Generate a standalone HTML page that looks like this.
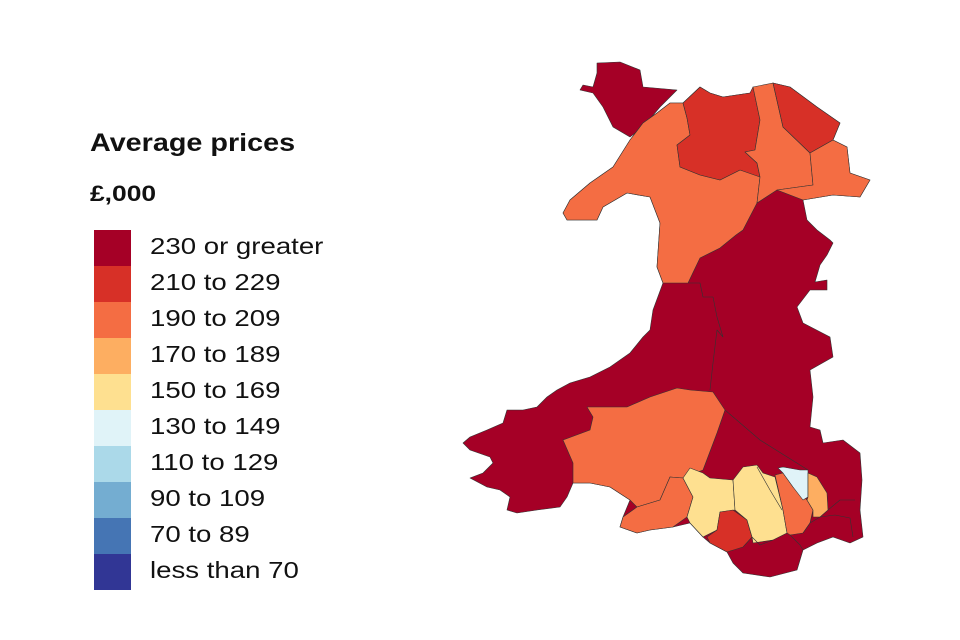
<!DOCTYPE html>
<html><head><meta charset="utf-8"><style>
html,body{margin:0;padding:0;background:#fff;}
body{width:960px;height:640px;position:relative;overflow:hidden;font-family:"Liberation Sans",Arial,sans-serif;}
.t{position:absolute;left:90px;color:#111;font-weight:bold;transform-origin:0 0;white-space:nowrap;}
.sw{position:absolute;left:94px;width:37px;height:36.2px;}
.lb{position:absolute;left:150px;font-size:23px;color:#111;line-height:36px;transform:scaleX(1.2);transform-origin:0 0;white-space:nowrap;}
</style></head><body>
<div class="t" style="top:129px;font-size:25px;transform:scaleX(1.15)">Average prices</div>
<div class="t" style="top:181px;font-size:22px;transform:scaleX(1.2)">£,000</div>
<div class="sw" style="top:230px;background:#a50026"></div><div class="lb" style="top:228px">230 or greater</div>
<div class="sw" style="top:266px;background:#d73027"></div><div class="lb" style="top:264px">210 to 229</div>
<div class="sw" style="top:302px;background:#f46d43"></div><div class="lb" style="top:300px">190 to 209</div>
<div class="sw" style="top:338px;background:#fdae61"></div><div class="lb" style="top:336px">170 to 189</div>
<div class="sw" style="top:374px;background:#fee090"></div><div class="lb" style="top:372px">150 to 169</div>
<div class="sw" style="top:410px;background:#e0f3f8"></div><div class="lb" style="top:408px">130 to 149</div>
<div class="sw" style="top:446px;background:#abd9e9"></div><div class="lb" style="top:444px">110 to 129</div>
<div class="sw" style="top:482px;background:#74add1"></div><div class="lb" style="top:480px">90 to 109</div>
<div class="sw" style="top:518px;background:#4575b4"></div><div class="lb" style="top:516px">70 to 89</div>
<div class="sw" style="top:554px;background:#313695"></div><div class="lb" style="top:552px">less than 70</div>
<svg width="960" height="640" style="position:absolute;left:0;top:0" stroke="#333" stroke-width="0.6" stroke-linejoin="round">
<polygon fill="#a50026" points="597,63 620,62 640,70 643,87 677,90 660,107 643,127 630,137 613,127 603,107 593,93 580,90 583,85 593,87 597,73"/>
<polygon fill="#a50026" points="670,103 683,103 700,87 710,93 723,97 750,93 760,87 773,83 790,87 817,107 840,123 833,140 847,147 850,173 870,180 860,197 833,195 803,200 807,220 817,230 830,240 833,243 827,255 820,265 815,282 827,280 827,290 810,290 797,307 803,323 830,337 833,357 810,370 813,397 810,427 820,430 823,443 843,440 860,453 862,480 860,510 863,537 850,543 833,537 817,543 803,550 797,570 770,577 743,573 733,563 727,552 710,543 703,537 690,523 673,527 650,530 637,533 620,527 623,517 630,500 610,487 590,483 573,483 567,497 560,507 537,510 517,513 507,510 510,497 500,490 487,487 470,478 483,473 493,463 490,457 470,450 463,443 470,437 487,430 503,423 507,410 523,410 537,407 547,397 557,390 570,383 590,377 610,367 630,353 643,337 650,330 653,310 663,283 657,267 660,223 650,197 627,193 603,207 597,220 567,220 563,213 570,200 590,183 613,167 630,140 643,123 657,113"/>
<polygon fill="#f46d43" points="657,113 670,103 683,103 687,118 690,135 677,145 680,167 700,175 720,180 740,170 758,175 760,177 757,203 743,230 736,235 720,248 700,258 688,283 663,283 657,267 660,223 650,197 627,193 603,207 597,220 567,220 563,213 570,200 590,183 613,167 630,140 643,123"/>
<polygon fill="#d73027" points="683,103 700,87 710,93 723,97 750,93 753,87 760,120 755,150 745,152 757,163 760,177 740,170 720,180 700,175 680,167 677,145 690,135 687,118"/>
<polygon fill="#f46d43" points="753,87 773,83 783,127 810,153 813,185 777,190 757,203 760,177 757,163 745,152 755,150 760,120"/>
<polygon fill="#d73027" points="773,83 790,87 817,107 840,123 833,140 810,153 783,127"/>
<polygon fill="#f46d43" points="810,153 833,140 847,147 850,173 870,180 860,197 833,195 803,200 777,190 813,185"/>
<polyline fill="none" points="688,283 700,283 703,297 713,297 717,317 723,337 717,330 713,363 710,390"/>
<polygon fill="#f46d43" points="587,407 627,407 650,397 677,388 690,390 713,392 725,410 717,433 703,470 683,478 670,477 660,500 637,507 630,500 610,487 590,483 573,483 573,463 563,440 590,430 593,417"/>
<polygon fill="#f46d43" points="670,477 683,478 693,497 687,517 673,527 650,530 637,533 620,527 623,517 637,507 660,500"/>
<polygon fill="#fee090" points="683,478 690,468 703,473 710,478 733,480 735,510 720,512 717,530 703,537 690,523 687,517 693,497"/>
<polygon fill="#d73027" points="720,512 733,510 747,520 752,537 743,547 727,552 710,543 707,537 717,530"/>
<polygon fill="#fee090" points="733,480 743,467 757,465 763,473 775,477 783,510 787,533 773,540 753,543 752,537 747,520 735,510"/>
<polyline fill="none" points="757,467 770,490 782,510"/>
<polygon fill="#f46d43" points="775,475 783,473 793,487 807,500 813,510 810,523 803,533 790,535 787,533 783,510"/>
<polygon fill="#e0f3f8" points="778,468 783,467 800,470 808,470 808,497 803,500 793,487 783,473"/>
<polygon fill="#fdae61" points="808,473 817,477 827,493 828,510 820,517 813,517 813,510 807,500 808,497"/>
<polyline fill="none" points="752,537 760,545 773,540"/>
<polyline fill="none" points="803,533 810,523 820,517 835,515 850,518 853,537"/>
<polyline fill="none" points="790,535 800,545 803,550"/>
<polyline fill="none" points="828,510 840,500 855,500"/>
<polyline fill="none" points="725,410 760,440 808,470"/>
</svg>
</body></html>
